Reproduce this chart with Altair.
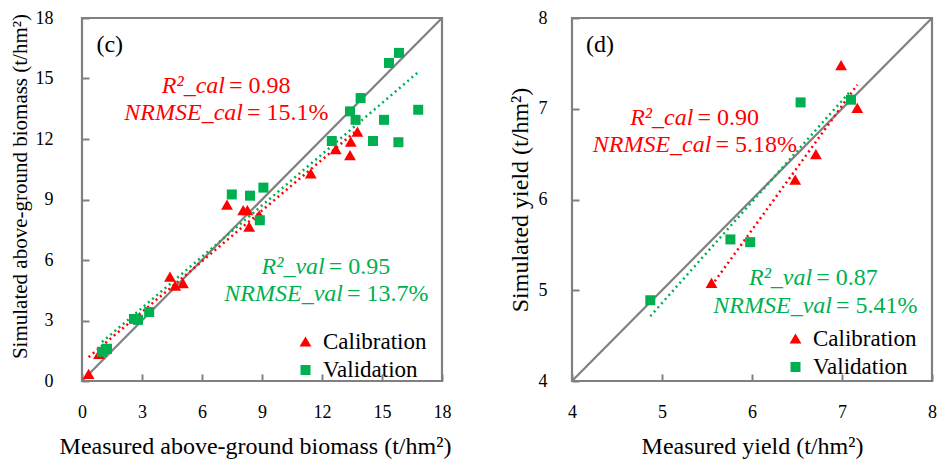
import altair as alt
import pandas as pd

FONT = "Liberation Serif"
RED = "#FF0000"
GREEN = "#00B050"
GRAY = "#808080"

# ---------------- data: panel (c) above-ground biomass (t/hm2) ----------------
c_cal_measured = [0.33, 0.85, 1.2, 4.4, 4.66, 5.05, 7.25, 8.06, 8.27, 8.36, 8.86,
                  11.44, 12.69, 13.4, 13.44, 13.77]
c_cal_simulated = [0.35, 1.35, 1.6, 5.17, 4.73, 4.85, 8.75, 8.47, 8.47, 7.65, 8.22,
                   10.3, 11.5, 11.2, 11.87, 12.37]
c_val_measured = [1.0, 1.25, 2.6, 2.8, 3.36, 7.49, 8.4, 9.07, 8.89, 12.49, 13.4,
                  13.68, 13.93, 14.55, 15.1, 15.35, 15.85, 15.82, 16.81]
c_val_simulated = [1.45, 1.6, 3.08, 3.03, 3.42, 9.25, 9.19, 9.59, 7.97, 11.9, 13.37,
                   12.95, 14.03, 11.9, 12.95, 15.77, 16.27, 11.84, 13.45]
c_ticks = [0, 3, 6, 9, 12, 15, 18]

# ---------------- data: panel (d) yield (t/hm2) ----------------
d_cal_measured = [5.55, 6.48, 6.71, 6.99, 7.17]
d_cal_simulated = [5.08, 6.22, 6.5, 7.48, 7.01]
d_val_measured = [4.87, 5.76, 5.98, 6.54, 7.1]
d_val_simulated = [4.89, 5.56, 5.53, 7.07, 7.1]
d_ticks = [4, 5, 6, 7, 8]

sets = ["Calibration", "Validation"]

# statistics text
c_stats_names = ["R²_cal", "NRMSE_cal", "R²_val", "NRMSE_val"]
c_stats_values = ["= 0.98", "= 15.1%", "= 0.95", "= 13.7%"]
d_stats_names = ["R²_cal", "NRMSE_cal", "R²_val", "NRMSE_val"]
d_stats_values = ["= 0.90", "= 5.18%", "= 0.87", "= 5.41%"]
stats_sets = ["Calibration", "Calibration", "Validation", "Validation"]

# annotation anchors (data units)
c_anchor_x = [7.2, 8.1, 12.19, 13.1]
c_anchor_y = [14.78, 13.43, 5.82, 4.44]
d_anchor_x = [5.36, 5.56, 6.68, 6.9]
d_anchor_y = [6.93, 6.63, 5.165, 4.86]


def legend_def(lx, ly):
    return alt.Legend(title=None, orient="none", legendX=lx, legendY=ly,
                      labelFont=FONT, labelFontSize=23, labelColor="black",
                      symbolSize=105, symbolStrokeWidth=0, labelOffset=6,
                      rowPadding=4.5, padding=0)


def panel(cal_x, cal_y, val_x, val_y, ticks, xtitle, ytitle, tag, tag_x, tag_y,
          names, values, ax, ay, ylab_pad, ytitle_size, leg_xy, ytitle_x,
          xtitle_x=None, ytitle_y=None):
    lo, hi = ticks[0], ticks[-1]
    pts = pd.DataFrame({
        "measured": cal_x + val_x,
        "simulated": cal_y + val_y,
        "set": ["Calibration"] * len(cal_x) + ["Validation"] * len(val_x),
    })
    ann = pd.DataFrame({"x": ax, "y": ay, "name": names, "value": values,
                        "set": stats_sets})
    one = pd.DataFrame({"measured": [lo, hi], "simulated": [lo, hi]})
    tagdf = pd.DataFrame({"x": [tag_x], "y": [tag_y], "t": [tag]})

    xs = alt.Scale(domain=[lo, hi], nice=False, zero=False)
    ys = alt.Scale(domain=[lo, hi], nice=False, zero=False)
    common = dict(grid=False, domain=False, tickSize=7, tickColor=GRAY,
                  tickWidth=2, offset=-7, labelFont=FONT, labelFontSize=18,
                  labelColor="black", titleFont=FONT,
                  titleFontWeight="normal", titleColor="black",
                  labelFlush=False, labelOverlap=False, format="d")
    xextra = {} if xtitle_x is None else {"titleX": xtitle_x}
    yextra = {"titleX": ytitle_x}
    if ytitle_y is not None:
        yextra["titleY"] = ytitle_y
    xax = alt.Axis(values=ticks, title=xtitle, labelPadding=22, titlePadding=13,
                   titleFontSize=24, **xextra, **common)
    yax = alt.Axis(values=ticks, title=ytitle, labelPadding=ylab_pad,
                   titleFontSize=ytitle_size, **yextra, **common)
    X = alt.X("measured:Q", scale=xs, axis=xax)
    Y = alt.Y("simulated:Q", scale=ys, axis=yax)

    line11 = alt.Chart(one).mark_line(color=GRAY, strokeWidth=2.2).encode(x=X, y=Y)

    def reg(s, col):
        return (alt.Chart(pts).transform_filter(alt.datum.set == s)
                .transform_regression("measured", "simulated")
                .mark_line(color=col, strokeWidth=2.5, strokeDash=[2, 3.5])
                .encode(x=X, y=Y))

    points = alt.Chart(pts).mark_point(filled=True, opacity=1).encode(
        x=X, y=Y,
        color=alt.Color("set:N", scale=alt.Scale(domain=sets, range=[RED, GREEN]),
                        legend=legend_def(*leg_xy)),
        shape=alt.Shape("set:N", scale=alt.Scale(domain=sets,
                                                 range=["triangle-up", "square"]),
                        legend=legend_def(*leg_xy)),
        size=alt.Size("set:N", scale=alt.Scale(domain=sets, range=[140, 100]),
                      legend=None),
        order=alt.Order("set:N"),
    )

    name_text = alt.Chart(ann).mark_text(
        align="right", baseline="middle", font=FONT, fontSize=24,
        fontStyle="italic", dx=-1, dy=3).encode(
        x=alt.X("x:Q", scale=xs), y=alt.Y("y:Q", scale=ys), text="name:N",
        color=alt.Color("set:N", scale=alt.Scale(domain=sets, range=[RED, GREEN]),
                        legend=None))
    value_text = alt.Chart(ann).mark_text(
        align="left", baseline="middle", font=FONT, fontSize=24, dx=3,
        dy=3).encode(
        x=alt.X("x:Q", scale=xs), y=alt.Y("y:Q", scale=ys), text="value:N",
        color=alt.Color("set:N", scale=alt.Scale(domain=sets, range=[RED, GREEN]),
                        legend=None))
    tag_text = alt.Chart(tagdf).mark_text(
        align="left", baseline="middle", font=FONT, fontSize=24,
        color="black").encode(x=alt.X("x:Q", scale=xs), y=alt.Y("y:Q", scale=ys),
                              text="t:N")

    return alt.layer(line11, reg("Calibration", RED), reg("Validation", GREEN),
                     points, name_text, value_text, tag_text).properties(
        width=360, height=363)


left = panel(c_cal_measured, c_cal_simulated, c_val_measured, c_val_simulated,
             c_ticks, "Measured above-ground biomass (t/hm²)",
             "Simulated  above-ground biomass (t/hm²)", "(c)", 0.72, 16.68,
             c_stats_names, c_stats_values, c_anchor_x, c_anchor_y, 29, 21,
             (212, 312), -59, xtitle_x=173, ytitle_y=168)
right = panel(d_cal_measured, d_cal_simulated, d_val_measured, d_val_simulated,
              d_ticks, "Measured yield  (t/hm²)", "Simulated  yield (t/hm²)",
              "(d)", 4.156, 7.70,
              d_stats_names, d_stats_values, d_anchor_x, d_anchor_y, 25, 24,
              (212, 309), -47)

chart = alt.hconcat(left, right, spacing=53).resolve_scale(
    x="independent", y="independent", color="independent", shape="independent",
    size="independent"
).resolve_legend(color="independent", shape="independent").properties(
    padding={"left": 7, "top": 7, "right": 0, "bottom": 0},
    background="white",
).configure_view(stroke=GRAY, strokeWidth=2.2)

chart.save("out.html", embed_options={"renderer": "svg", "actions": False})
